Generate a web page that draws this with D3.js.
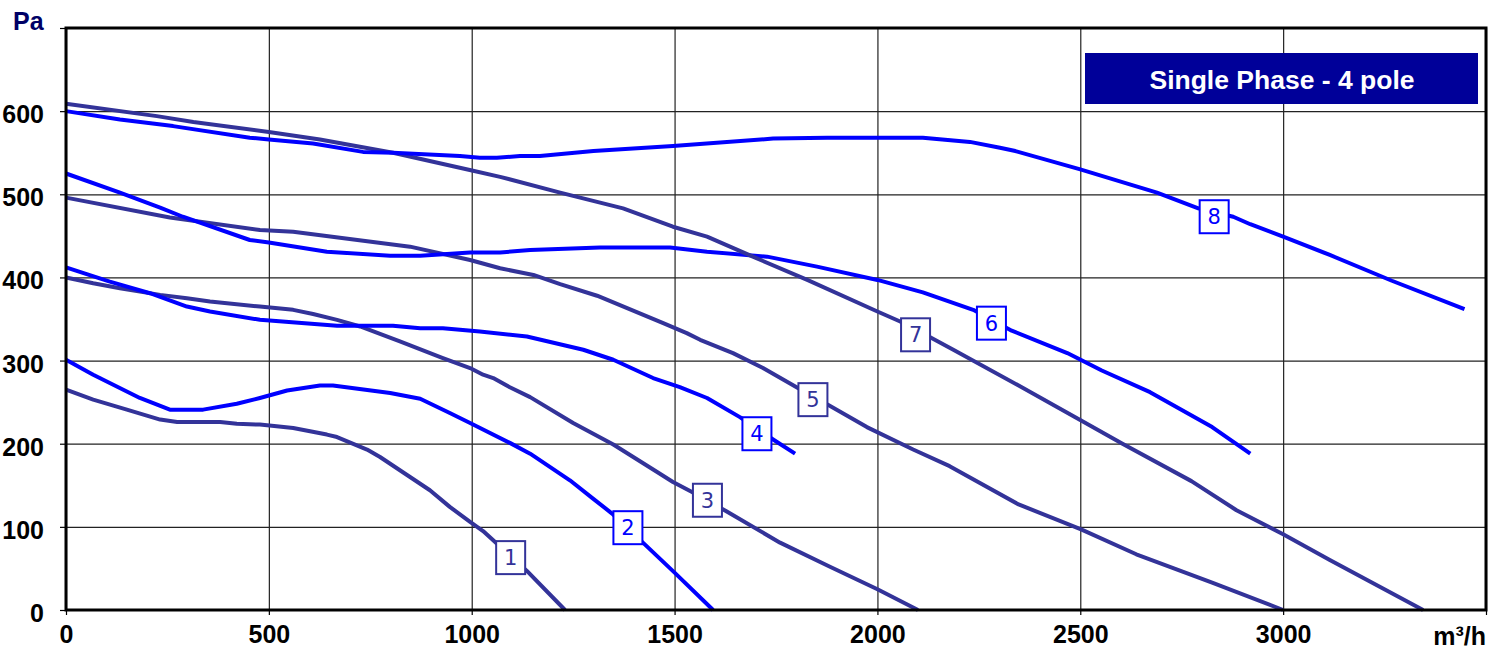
<!DOCTYPE html>
<html>
<head>
<meta charset="utf-8">
<script src="https://cdn.jsdelivr.net/npm/d3@7"></script>
<style>
  body { margin: 0; background: #fff; }
  svg { display: block; }
</style>
</head>
<body>
<div id="chart"></div>
<script>
// fan curves, flow (m3/h) vs pressure (Pa)
const curve1 = [[0,265],[67,253],[150,241],[232,229],[274,226],[380,226],[421,224],[478,223],[560,219],[643,211],[668,208],[742,193],[774,184],[848,160],[897,144],[946,124],[996,106],[1028,95],[1057,82],[1136,47],[1230,0]];
const curve2 = [[0,301],[67,283],[182,255],[256,241],[338,241],[421,248],[478,255],[545,264],[626,270],[658,270],[799,261],[873,254],[946,237],[996,225],[1094,201],[1144,188],[1242,156],[1299,134],[1346,116],[1422,81],[1500,45],[1595,0]];
const curve3 = [[0,400],[67,393],[133,387],[232,379],[298,375],[355,371],[478,365],[560,361],[609,356],[668,349],[725,341],[823,323],[929,303],[996,291],[1028,283],[1053,279],[1094,268],[1144,256],[1250,225],[1349,199],[1457,166],[1496,154],[1543,142],[1620,121],[1760,81],[1883,52],[2000,25],[2100,0]];
const curve4 = [[0,412],[51,404],[108,395],[207,381],[298,365],[355,359],[478,349],[668,342],[806,342],[873,339],[929,339],[1020,335],[1136,329],[1275,313],[1349,301],[1447,279],[1513,268],[1580,255],[1661,232],[1740,206],[1797,188]];
const curve5 = [[0,496],[256,472],[478,457],[560,455],[848,437],[996,421],[1070,411],[1152,403],[1218,392],[1309,378],[1472,345],[1530,333],[1563,325],[1644,309],[1718,291],[1804,267],[1878,247],[1974,220],[2088,193],[2178,173],[2348,127],[2502,97],[2638,67],[2825,33],[3000,0]];
const curve6 = [[0,525],[133,502],[232,484],[288,473],[453,445],[500,442],[643,431],[799,426],[873,426],[996,430],[1070,430],[1144,433],[1316,436],[1489,436],[1580,431],[1728,425],[1851,413],[2000,397],[2112,382],[2236,361],[2331,336],[2468,309],[2553,288],[2672,262],[2825,220],[2919,188]];
const curve7 = [[0,609],[224,594],[314,587],[500,575],[626,566],[806,550],[998,529],[1070,521],[1218,502],[1373,483],[1496,461],[1580,449],[1693,425],[1827,397],[2000,359],[2056,347],[2130,328],[2187,313],[2348,270],[2502,228],[2604,200],[2774,155],[2885,120],[3000,91],[3115,60],[3345,0]];
const curve8 = [[0,600],[133,590],[264,582],[453,568],[500,566],[609,561],[732,551],[806,550],[971,546],[1020,544],[1062,544],[1119,546],[1168,546],[1300,552],[1496,558],[1743,567],[1876,568],[2112,568],[2228,563],[2302,556],[2340,552],[2500,530],[2689,502],[2791,483],[2877,473],[2919,464],[3000,449],[3115,427],[3268,396],[3447,362]];

const curveNames = ["1","2","3","4","5","6","7","8"];
const labelFlow = [1096, 1385, 1581, 1703, 1841, 2281, 2094, 2830];
const labelPress = [63, 99, 132, 212, 253, 345, 331, 473];
const xTicks = [0, 500, 1000, 1500, 2000, 2500, 3000, 3500];
const yTicks = [0, 100, 200, 300, 400, 500, 600, 700];
const title = "Single Phase - 4 pole";

const curves = [curve1, curve2, curve3, curve4, curve5, curve6, curve7, curve8];
const colors = curveNames.map((d, i) => i % 2 === 0 ? "#333399" : "#0000ff");

const W = 1498, H = 651;
const mLeft = 66, mRight = 1486, mTop = 28, mBottom = 610;

const svg = d3.select("#chart").append("svg")
  .attr("width", W).attr("height", H);

const x = d3.scaleLinear().domain([0, 3500]).range([mLeft, mRight]);
const y = d3.scaleLinear().domain([0, 700]).range([mBottom, mTop]);

// grid
svg.append("g")
  .attr("transform", `translate(0,${mBottom})`)
  .call(d3.axisBottom(x).tickValues(xTicks).tickSize(-(mBottom - mTop)).tickFormat(""))
  .call(g => g.select(".domain").remove())
  .call(g => g.selectAll("line").attr("stroke", "#222").attr("stroke-width", 1.2));
svg.append("g")
  .attr("transform", `translate(${mLeft},0)`)
  .call(d3.axisLeft(y).tickValues(yTicks).tickSize(-(mRight - mLeft)).tickFormat(""))
  .call(g => g.select(".domain").remove())
  .call(g => g.selectAll("line").attr("stroke", "#222").attr("stroke-width", 1.2));

// tick marks + labels
const xAxis = svg.append("g")
  .attr("transform", `translate(0,${mBottom})`)
  .call(d3.axisBottom(x).tickValues(xTicks).tickSize(5).tickPadding(10)
    .tickFormat(d => d === 3500 ? "" : d));
const yAxis = svg.append("g")
  .attr("transform", `translate(${mLeft},0)`)
  .call(d3.axisLeft(y).tickValues(yTicks).tickSize(6).tickPadding(16)
    .tickFormat(d => d === 700 ? "" : d));
[xAxis, yAxis].forEach(a => {
  a.select(".domain").remove();
  a.selectAll("line").attr("stroke", "#000").attr("stroke-width", 1.2);
  a.selectAll("text")
    .attr("fill", "#000")
    .style("font-family", "'Liberation Sans', Arial, sans-serif")
    .style("font-weight", "bold")
    .style("font-size", "25px");
});
yAxis.selectAll("text").attr("dy", "0.46em");

// curves
const line = d3.line().x(d => x(d[0])).y(d => y(d[1]));
svg.append("g").selectAll("path")
  .data(curves)
  .join("path")
  .attr("d", line)
  .attr("fill", "none")
  .attr("stroke", (d, i) => colors[i])
  .attr("stroke-width", 4)
  .attr("stroke-linejoin", "round");

// curve number boxes
const lab = svg.append("g").selectAll("g")
  .data(curveNames)
  .join("g")
  .attr("transform", (d, i) => `translate(${x(labelFlow[i])},${y(labelPress[i])})`);
lab.append("rect")
  .attr("x", -14.5).attr("y", -16.5)
  .attr("width", 29).attr("height", 33)
  .attr("fill", "#fff")
  .attr("stroke", (d, i) => colors[i])
  .attr("stroke-width", 2);
lab.append("text")
  .attr("text-anchor", "middle")
  .attr("dy", "0.36em")
  .attr("fill", (d, i) => colors[i])
  .style("font-family", "'DejaVu Sans', Verdana, sans-serif")
  .style("font-size", "21px")
  .text(d => d);

// title box
svg.append("rect")
  .attr("x", 1085).attr("y", 53)
  .attr("width", 393).attr("height", 51)
  .attr("fill", "#000099");
svg.append("text")
  .attr("x", 1282).attr("y", 89)
  .attr("text-anchor", "middle")
  .attr("fill", "#fff")
  .style("font-family", "'Liberation Sans', Arial, sans-serif")
  .style("font-weight", "bold")
  .style("font-size", "26.5px")
  .text(title);

// frame
svg.append("rect")
  .attr("x", mLeft).attr("y", mTop)
  .attr("width", mRight - mLeft).attr("height", mBottom - mTop)
  .attr("fill", "none")
  .attr("stroke", "#000")
  .attr("stroke-width", 3);

// unit labels
svg.append("text")
  .attr("x", 13).attr("y", 30)
  .attr("fill", "#000066")
  .style("font-family", "'Liberation Sans', Arial, sans-serif")
  .style("font-weight", "bold")
  .style("font-size", "25px")
  .text("Pa");
svg.append("text")
  .attr("x", 1486).attr("y", 645)
  .attr("text-anchor", "end")
  .attr("fill", "#000")
  .style("font-family", "'Liberation Sans', Arial, sans-serif")
  .style("font-weight", "bold")
  .style("font-size", "25px")
  .text("m³/h");
</script>
</body>
</html>
